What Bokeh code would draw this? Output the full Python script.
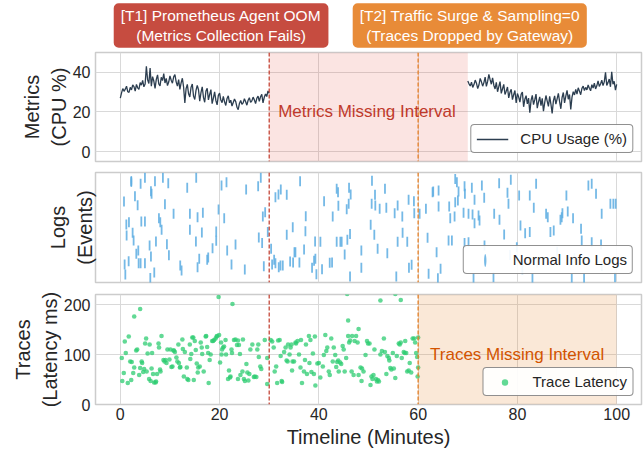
import numpy as np
from bokeh.plotting import figure
from bokeh.models import Range1d, FixedTicker, Span, BoxAnnotation, Label, Legend, LegendItem
from bokeh.layouts import column
from bokeh.embed import file_html
from bokeh.resources import INLINE

FONT = "Liberation Sans"
TXT = "#262626"

# ---------------- data ----------------
x_ticks = [0, 20, 40, 60, 80, 100]
cpu_ticks = [0, 20, 40]
lat_ticks = [0, 100, 200]

t1_event = 30   # Prometheus agent OOM
t2_event = 60   # traffic surge / sampling=0
metrics_gap = (30, 70)
traces_gap = (60, 100)

cpu_part1 = [
    27.0, 29.6, 31.8, 30.4, 31.5, 33.0, 30.2, 29.9, 32.4, 31.1,
    33.6, 32.8, 30.5, 33.9, 32.2, 31.4, 34.8, 33.5, 35.9, 32.7,
    34.1, 43.0, 36.2, 34.4, 42.1, 33.0, 37.8, 35.6, 31.9, 36.4,
    38.7, 34.2, 33.1, 37.5, 35.8, 39.4, 34.6, 36.9, 33.3, 35.1,
    38.2, 36.0, 34.5, 37.7, 38.9, 35.2, 33.0, 36.3, 31.4, 34.7,
    37.0, 32.5, 24.6, 31.8, 33.9, 29.2, 27.6, 32.4, 34.1, 28.0,
    26.3, 30.9, 33.4, 31.2, 25.5, 29.8, 32.7, 27.4, 24.9, 30.6,
    31.9, 26.1, 28.8, 31.3, 24.2, 27.0, 30.1, 25.8, 23.6, 28.4,
    29.5, 26.0, 24.7, 27.9, 25.1, 23.3, 26.8, 28.1, 24.6, 25.9,
    23.0, 24.8, 26.5, 25.2, 22.4, 21.2, 24.3, 25.8, 23.9, 24.6,
    26.7, 25.1, 23.4, 25.9, 27.2, 24.8, 25.6, 27.5, 26.1, 24.2,
    26.9, 28.0, 25.3, 27.7, 28.9, 24.6, 27.4, 29.1, 27.8, 30.6,
    29.4,
]
cpu_part2 = [
    35.6, 34.2, 33.1, 35.0, 32.4, 33.8, 36.1, 34.5, 31.8, 33.6,
    36.9, 35.2, 33.0, 34.8, 37.6, 32.9, 35.4, 39.0, 36.3, 34.0,
    37.2, 33.5, 31.6, 34.9, 30.2, 32.8, 35.3, 29.4, 31.7, 33.9,
    28.8, 30.5, 32.6, 27.1, 29.9, 31.4, 26.2, 28.7, 30.8, 24.5,
    29.3, 27.6, 25.0, 28.9, 30.1, 22.6, 26.4, 28.2, 24.1, 27.0,
    19.6, 25.8, 28.4, 23.7, 26.2, 29.0, 21.9, 25.1, 27.6, 23.2,
    26.9, 20.4, 24.7, 28.3, 25.5, 22.8, 27.9, 24.0, 19.2, 25.6,
    28.1, 23.9, 26.6, 29.4, 25.2, 21.6, 27.3, 29.8, 24.6, 28.0,
    30.9, 26.4, 28.8, 21.3, 27.5, 30.2, 28.6, 31.4, 29.0, 32.2,
    30.5, 28.7, 31.9, 33.0, 30.8, 32.4, 31.1, 33.6, 32.0, 30.7,
    33.8, 32.1, 34.5, 31.6, 33.2, 35.7, 32.9, 34.1, 36.0, 33.3,
    35.2, 40.0, 33.4, 34.8, 36.6, 32.7, 40.2, 34.0, 35.5, 31.0,
    33.9,
]
cpu_time1 = np.linspace(0, 30, len(cpu_part1))
cpu_time2 = np.linspace(70, 100, len(cpu_part2))

log_minutes = [
    2.21, 4.09, 4.96, 6.98, 8.58, 9.66, 13.48, 15.29, 20.39, 21.39, 25.35, 27.77, 28.30,
    6.30, 6.17, 2.95, 0.74, 3.49, 8.99, 19.79, 10.73, 14.02, 15.56, 16.63, 29.18, 20.93, 28.71,
    1.21, 1.74, 4.23, 4.96, 7.78, 8.05, 8.32, 14.02, 16.43, 19.32, 29.71,
    1.27, 2.48, 2.68, 7.18, 5.90, 9.39, 15.23, 19.32, 23.21, 27.90, 28.57,
    3.22, 3.62, 6.17, 9.79, 15.90, 17.71, 17.50, 18.58, 21.53,
    0.87, 1.68, 3.69, 4.96, 4.09, 12.07, 12.34, 15.56, 22.40, 25.08, 28.91, 1.01, 6.04, 6.84,
    36.22, 31.25, 31.86, 32.33, 33.53, 37.36, 34.74, 33.53, 37.29, 30.38, 30.99, 30.58, 31.25,
    31.92, 32.26, 32.73, 34.21, 34.81, 35.08, 35.28, 36.08, 37.02, 38.63, 39.03, 39.30, 39.24,
    39.50, 40.31, 40.64, 41.05, 42.19, 42.66, 42.79, 43.59, 43.86, 43.93, 43.59, 44.33, 44.60,
    45.20, 45.61, 45.74, 46.08, 46.01, 46.41, 46.28, 46.28, 48.56, 48.56, 50.44, 50.70, 50.64,
    51.17, 51.31, 51.37, 51.84, 52.25, 53.32, 53.59, 53.79, 55.27, 55.60, 55.87, 55.87, 56.81,
    56.87, 57.81, 58.08, 58.15, 58.69, 59.15, 59.22, 60.30, 61.57, 61.90, 62.11, 63.04, 63.72,
    64.12, 63.98, 64.52,
    67.47, 67.81, 69.35, 69.42, 68.14, 70.82, 71.36, 72.84, 73.31, 76.32, 78.67, 78.00, 62.91,
    64.12, 66.26, 66.47, 67.34, 67.47, 68.01, 69.15, 70.15, 70.96, 71.36, 72.17, 72.37, 75.32,
    76.39, 78.20, 66.13, 66.80, 69.35, 70.15, 73.37, 77.33, 79.88, 80.35, 82.49, 83.30, 80.62,
    81.56, 82.49, 83.77, 85.78, 86.12, 86.65, 87.32, 88.67, 88.93, 89.07, 90.14, 89.87, 91.21,
    92.82, 92.96, 94.30, 94.97, 95.84, 96.98, 98.73, 99.33, 99.80, 94.97, 96.85, 71.16, 75.18,
    83.03, 90.95, 93.43, 99.66, 78.50, 84.00, 88.00, 91.50, 97.00, 81.00,
]
log_position = [
    0.918, 0.897, 0.952, 0.921, 0.952, 0.903, 0.861, 0.952, 0.882, 0.912, 0.845, 0.876, 0.952,
    0.806, 0.830, 0.785, 0.736, 0.703, 0.712, 0.664, 0.624, 0.624, 0.594, 0.633, 0.639, 0.585, 0.600,
    0.527, 0.548, 0.555, 0.555, 0.585, 0.548, 0.479, 0.479, 0.455, 0.464, 0.458,
    0.427, 0.452, 0.382, 0.373, 0.336, 0.348, 0.373, 0.379, 0.345, 0.409, 0.358,
    0.261, 0.291, 0.236, 0.248, 0.215, 0.227, 0.206, 0.312, 0.291,
    0.164, 0.194, 0.176, 0.176, 0.176, 0.155, 0.109, 0.139, 0.164, 0.118, 0.148, 0.073, 0.042, 0.091,
    0.921, 0.776, 0.800, 0.845, 0.797, 0.603, 0.503, 0.433, 0.467, 0.306, 0.206, 0.164, 0.176,
    0.139, 0.155, 0.155, 0.191, 0.182, 0.276, 0.276, 0.182, 0.300, 0.133, 0.197, 0.215, 0.373,
    0.076, 0.370, 0.121, 0.739, 0.179, 0.182, 0.600, 0.852, 0.821, 0.697, 0.370, 0.370, 0.370,
    0.255, 0.667, 0.388, 0.861, 0.715, 0.800, 0.442, 0.055, 0.291, 0.133, 0.524, 0.924, 0.715,
    0.433, 0.797, 0.700, 0.306, 0.670, 0.852, 0.679, 0.267, 0.630, 0.055, 0.700, 0.370, 0.600,
    0.452, 0.370, 0.752, 0.133, 0.161, 0.739, 0.630, 0.624, 0.670, 0.406, 0.079, 0.827, 0.276,
    0.691, 0.039, 0.124,
    0.942, 0.912, 0.876, 0.806, 0.827, 0.861, 0.752, 0.882, 0.770, 0.903, 0.933, 0.815, 0.821,
    0.836, 0.691, 0.585, 0.600, 0.730, 0.745, 0.633, 0.624, 0.618, 0.539, 0.609, 0.564, 0.624,
    0.570, 0.715, 0.382, 0.382, 0.358, 0.367, 0.336, 0.436, 0.321, 0.791, 0.791, 0.679, 0.518,
    0.448, 0.458, 0.897, 0.624, 0.594, 0.458, 0.473, 0.570, 0.594, 0.630, 0.645, 0.791, 0.585,
    0.488, 0.382, 0.882, 0.897, 0.806, 0.624, 0.715, 0.715, 0.715, 0.367, 0.345, 0.042, 0.048,
    0.042, 0.033, 0.042, 0.048, 0.250, 0.180, 0.280, 0.220, 0.150, 0.120,
]

trace_minutes = [
    19.8, 22.6, 4.0, 2.8, 0.3, 0.4, 0.7, 1.1, 0.9, 1.5,
    1.7, 2.0, 2.3, 2.2, 2.6, 2.8, 3.2, 3.4, 3.8, 4.0,
    4.3, 4.4, 4.6, 4.8, 5.0, 5.2, 5.3, 5.5, 5.8, 5.9,
    6.1, 6.3, 6.4, 6.6, 6.8, 7.1, 7.2, 7.4, 7.7, 7.8,
    8.0, 8.1, 8.3, 8.7, 8.9, 9.1, 9.3, 9.5, 9.9, 10.1,
    10.3, 10.5, 10.7, 10.8, 11.0, 11.3, 11.5, 11.7, 11.8, 12.0,
    12.1, 12.5, 12.6, 12.8, 13.0, 13.4, 13.5, 13.7, 14.0, 14.1,
    14.3, 14.5, 14.7, 14.8, 15.0, 15.2, 15.4, 15.6, 15.7, 16.0,
    16.2, 16.4, 16.5, 16.8, 17.2, 17.3, 17.5, 17.7, 17.8, 18.0,
    18.2, 18.5, 18.7, 18.9, 19.2, 19.4, 19.5, 19.9, 20.1, 20.3,
    20.4, 20.5, 20.7, 20.9, 21.2, 21.3, 21.7, 21.9, 22.1, 22.2,
    22.4, 22.5, 22.9, 23.2, 23.5, 23.7, 23.9, 24.1, 23.7, 24.2,
    24.6, 24.7, 24.9, 25.1, 25.4, 25.6, 25.8, 26.0, 26.2, 26.6,
    26.9, 27.1, 27.4, 27.6, 27.8, 27.9, 28.2, 28.4,
    29.1, 29.6, 29.6, 30.3, 30.6, 30.9, 31.1, 31.4, 31.6, 31.8,
    32.1, 32.3, 32.5, 32.6, 33.0, 33.3, 33.5, 33.7, 33.8, 34.1,
    34.3, 34.5, 34.6, 34.7, 35.0, 35.3, 35.4, 35.7, 36.0, 36.3,
    36.4, 36.6, 37.0, 37.2, 37.4, 37.6, 38.0, 38.1, 38.3, 38.5,
    38.8, 39.0, 39.2, 39.3, 39.7, 40.0, 40.3, 40.8, 41.0, 41.3,
    41.5, 41.7, 42.0, 42.2, 42.5, 42.8, 43.0, 43.3, 43.5, 43.7,
    43.9, 44.0, 44.3, 44.5, 44.8, 45.0, 45.2, 45.5, 45.9, 46.1,
    46.3, 46.6, 46.7, 47.0, 47.2, 47.5, 47.8, 48.0, 48.4, 48.6,
    48.7, 49.0, 49.4, 49.7, 49.9, 50.2, 50.4, 50.6, 50.8, 51.0,
    51.2, 51.5, 51.7, 51.9, 52.1, 52.4, 52.7, 53.1, 53.3, 53.6,
    53.8, 54.1, 54.2, 54.4, 54.6, 54.9, 55.1, 55.4, 55.7, 56.1,
    56.3, 56.5, 56.7, 57.1, 57.3, 57.4, 57.6, 57.8, 58.1, 58.3,
    58.6, 58.9, 59.2, 59.4, 59.6, 59.8, 59.9, 60.0, 60.0,
    52.4, 55.4, 56.5, 45.7, 45.9, 48.0,
]
trace_latency = [
    215, 201, 191, 176, 93, 47, 63, 103, 126, 43,
    136, 86, 85, 49, 63, 74, 108, 110, 59, 73,
    86, 83, 65, 71, 122, 132, 66, 102, 51, 120,
    47, 72, 103, 61, 44, 44, 46, 61, 122, 114,
    70, 66, 137, 89, 86, 89, 83, 110, 90, 110,
    75, 76, 108, 108, 105, 94, 86, 120, 83, 74,
    75, 130, 111, 56, 105, 74, 51, 49, 120, 91,
    101, 134, 134, 49, 127, 109, 82, 64, 74, 76,
    124, 114, 101, 66, 136, 137, 115, 103, 43, 89,
    100, 127, 127, 129, 132, 136, 137, 139, 84, 124,
    100, 110, 114, 116, 129, 100, 51, 68, 54, 56,
    110, 103, 129, 130, 119, 128, 119, 101, 51, 59,
    66, 130, 51, 47, 81, 64, 48, 61, 110, 120,
    55, 56, 55, 110, 120, 95, 76, 71,
    129, 93, 41, 129, 126, 114, 66, 76, 43, 128,
    129, 97, 47, 45, 105, 114, 88, 86, 120, 100,
    114, 120, 68, 86, 86, 124, 122, 127, 100, 74,
    129, 43, 66, 89, 120, 61, 137, 83, 129, 65,
    102, 61, 136, 38, 82, 83, 54, 76, 99, 139,
    107, 114, 66, 59, 132, 86, 114, 99, 75, 85,
    88, 66, 84, 81, 117, 110, 66, 93, 137, 124,
    128, 66, 137, 59, 127, 137, 124, 59, 74, 47,
    72, 66, 99, 127, 122, 122, 39, 56, 51, 59,
    110, 51, 46, 49, 46, 100, 107, 132, 105, 61,
    97, 93, 88, 73, 70, 103, 72, 53, 97, 122,
    120, 124, 93, 105, 103, 127, 103, 66, 68, 83,
    64, 132, 132, 124, 103, 95, 56, 74, 134,
    208, 221, 209, 221, 168, 151,
]

t1_title = "[T1] Prometheus Agent OOM\n(Metrics Collection Fails)"
t2_title = "[T2] Traffic Surge & Sampling=0\n(Traces Dropped by Gateway)"
t1_title_x = 20.3
t2_title_x = 70.4

# ---------------- layout constants ----------------
W = 643
LEFT = 95
x_range = Range1d(-5, 105)


def style(p):
    p.outline_line_color = "#cccccc"
    p.outline_line_width = 1.5
    p.background_fill_color = "white"
    p.border_fill_color = "white"
    for ax in p.axis:
        ax.axis_line_color = None
        ax.major_tick_line_color = None
        ax.minor_tick_line_color = None
        ax.major_tick_out = 0
        ax.major_tick_in = 0
        ax.minor_tick_out = 0
        ax.minor_tick_in = 0
        ax.major_label_text_font = FONT
        ax.major_label_text_font_size = "16px"
        ax.major_label_text_color = TXT
        ax.axis_label_text_font = FONT
        ax.axis_label_text_font_size = "20px"
        ax.axis_label_text_font_style = "normal"
        ax.axis_label_text_color = TXT
        ax.major_label_standoff = 5
        ax.axis_label_standoff = 0
    p.xaxis.ticker = FixedTicker(ticks=x_ticks)
    p.xgrid.ticker = FixedTicker(ticks=x_ticks)
    p.grid.grid_line_color = "#d9d9d9"
    p.grid.grid_line_width = 1


def style_legend(lg):
    lg.location = "bottom_right"
    lg.margin = 8
    lg.padding = 5
    lg.label_text_font = FONT
    lg.label_text_font_size = "15px"
    lg.label_text_color = TXT
    lg.glyph_width = 32
    lg.glyph_height = 16
    lg.label_height = 16
    lg.label_standoff = 12
    lg.border_line_color = "#222222"
    lg.border_line_width = 1
    lg.background_fill_alpha = 0.92
    try:
        lg.border_radius = 4
    except Exception:
        pass


def event_lines(p):
    p.add_layout(Span(location=t1_event, dimension="height", line_color="#c0392b",
                      line_alpha=0.8, line_dash="4 2", line_width=1.5))
    p.add_layout(Span(location=t2_event, dimension="height", line_color="#e67e22",
                      line_alpha=0.85, line_dash="4 2", line_width=1.5))


# ---------------- header : event boxes ----------------
p0 = figure(width=W, height=50, x_range=x_range, y_range=Range1d(0, 1),
            output_backend="svg", toolbar_location=None,
            min_border_left=LEFT, min_border_right=2, min_border_top=0, min_border_bottom=0)
p0.axis.visible = False
p0.grid.visible = False
p0.outline_line_color = None
p0.background_fill_color = "white"
p0.border_fill_color = "white"
for tx, title, col in ((t1_title_x, t1_title, "#c0392b"), (t2_title_x, t2_title, "#e67e22")):
    p0.add_layout(Label(x=tx, y=0.5, text=title, text_align="center", text_baseline="middle",
                        text_color="white", text_font=FONT, text_font_size="15.5px",
                        text_line_height=1.15, background_fill_color=col,
                        background_fill_alpha=0.9, padding=(7, 4), border_radius=5))

# ---------------- panel 1 : metrics ----------------
p1 = figure(width=W, height=116, x_range=x_range, y_range=Range1d(-5, 50),
            output_backend="svg", toolbar_location=None,
            min_border_left=LEFT, min_border_right=2, min_border_top=2, min_border_bottom=5)
style(p1)
p1.xaxis.visible = False
p1.yaxis.ticker = FixedTicker(ticks=cpu_ticks)
p1.ygrid.ticker = FixedTicker(ticks=cpu_ticks)
p1.yaxis.axis_label = "Metrics\n(CPU %)"
p1.add_layout(BoxAnnotation(left=metrics_gap[0], right=metrics_gap[1], fill_color="#e74c3c",
                            fill_alpha=0.15, line_color=None))
r_cpu = p1.line(cpu_time1, cpu_part1, line_color="#2c3e50", line_width=1.3)
p1.line(cpu_time2, cpu_part2, line_color="#2c3e50", line_width=1.3)
event_lines(p1)
p1.add_layout(Label(x=31.8, y=20, text="Metrics Missing Interval", text_color="#c0392b",
                    text_font=FONT, text_font_size="17px", text_baseline="middle"))
lg1 = Legend(items=[LegendItem(label="CPU Usage (%)", renderers=[r_cpu])])
style_legend(lg1)
p1.add_layout(lg1)

# ---------------- panel 2 : logs ----------------
p2 = figure(width=W, height=122, x_range=x_range, y_range=Range1d(0, 1),
            output_backend="svg", toolbar_location=None,
            min_border_left=LEFT, min_border_right=2, min_border_top=6, min_border_bottom=6)
style(p2)
p2.xaxis.visible = False
p2.yaxis.ticker = FixedTicker(ticks=[])
p2.ygrid.visible = False
p2.yaxis.axis_label = "Logs\n(Events)"
p2.yaxis.major_label_standoff = 2
p2.scatter(log_minutes, log_position, marker="dash", angle=np.pi / 2, size=10,
           line_color="#5dade2", line_alpha=0.85, line_width=1.8)
# legend swatch: a thin upright ellipse sitting on the first log event
r_log_key = p2.ellipse(x=log_minutes[:1], y=log_position[:1], width=2, height=11,
                       width_units="screen", height_units="screen",
                       fill_color="#5dade2", fill_alpha=0.85, line_color=None)
event_lines(p2)
lg2 = Legend(items=[LegendItem(label="Normal Info Logs", renderers=[r_log_key], index=0)])
style_legend(lg2)
p2.add_layout(lg2)

# ---------------- panel 3 : traces ----------------
p3 = figure(width=W, height=162, x_range=x_range, y_range=Range1d(0, 220),
            output_backend="svg", toolbar_location=None,
            min_border_left=LEFT, min_border_right=2, min_border_top=6, min_border_bottom=0)
style(p3)
p3.yaxis.ticker = FixedTicker(ticks=lat_ticks)
p3.ygrid.ticker = FixedTicker(ticks=lat_ticks)
p3.yaxis.axis_label = "Traces\n(Latency ms)"
p3.xaxis.axis_label = "Timeline (Minutes)"
p3.xaxis.major_label_standoff = 3
p3.xaxis.axis_label_standoff = 3
p3.add_layout(BoxAnnotation(left=traces_gap[0], right=traces_gap[1], fill_color="#e67e22",
                            fill_alpha=0.18, line_color=None))
r_tr = p3.scatter(trace_minutes, trace_latency, size=4.6, fill_color="#2ecc71", fill_alpha=0.75,
                  line_color=None)
event_lines(p3)
p3.add_layout(Label(x=62.4, y=100, text="Traces Missing Interval", text_color="#d35400",
                    text_font=FONT, text_font_size="17px", text_baseline="middle"))
lg3 = Legend(items=[LegendItem(label="Trace Latency", renderers=[r_tr])])
style_legend(lg3)
p3.add_layout(lg3)

layout = column(p0, p1, p2, p3, spacing=0)
open("out.html", "w").write(file_html(layout, INLINE))
